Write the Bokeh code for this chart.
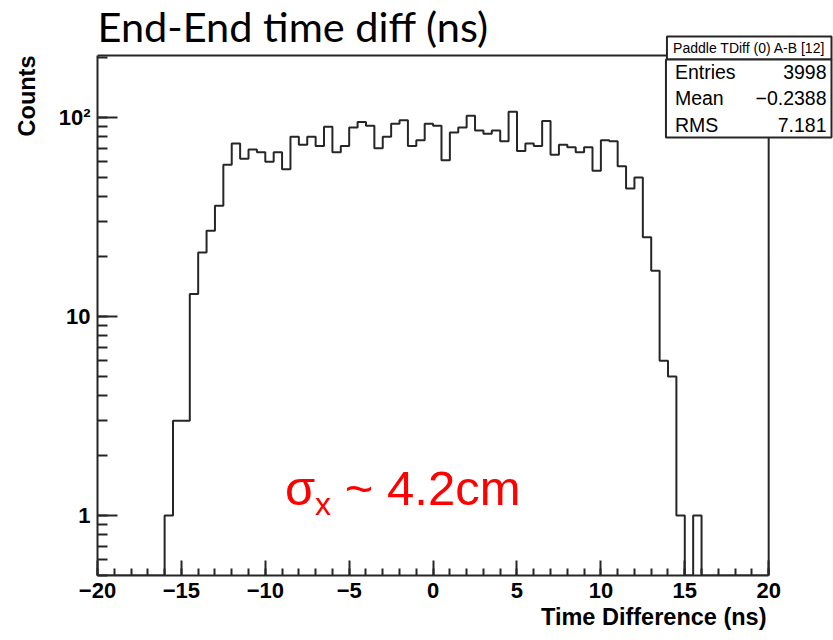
import math
import numpy as np
from bokeh.plotting import figure
from bokeh.models import (Range1d, FixedTicker, BoxAnnotation, Label, Title)
from bokeh.embed import file_html
from bokeh.resources import INLINE

# ---------------- data ----------------
bin_width = 0.5
bin_low = np.arange(-20.0, 20.0, bin_width)          # 80 bins, -20 .. 19.5
counts = [
    0, 0, 0, 0, 0, 0, 0, 0,                          # -20.0 .. -16.5
    1, 3, 3, 13, 21, 27, 36, 58,                     # -16.0 .. -12.5
    74, 62, 69, 67, 60, 67, 55, 80,                  # -12.0 .. -8.5
    73, 80, 72, 90, 67, 72, 89, 95,                  # -8.0 .. -4.5
    91, 70, 80, 93, 97, 72, 77, 93,                  # -4.0 .. -0.5
    91, 61, 84, 89, 102, 86, 83, 86,                 # 0.0 .. 3.5
    76, 107, 68, 74, 72, 96, 65, 73,                 # 4.0 .. 7.5
    71, 67, 71, 54, 77, 76, 57, 44,                  # 8.0 .. 11.5
    50, 25, 17, 6, 5, 1, 0, 1,                       # 12.0 .. 15.5
    0, 0, 0, 0, 0, 0, 0, 0,                          # 16.0 .. 19.5
]
x_ticks = [-20, -15, -10, -5, 0, 5, 10, 15, 20]
x_tick_labels = ["\u221220", "\u221215", "\u221210", "\u22125", "0", "5", "10", "15", "20"]
y_ticks = [1, 10, 100]
y_tick_labels = ["1", "10", "10\u00b2"]

title_text = "End-End time diff (ns)"
x_title = "Time Difference (ns)"
y_title = "Counts"
stats_header = "Paddle TDiff (0) A-B [12]"
stats_names = ["Entries", "Mean", "RMS"]
stats_values = ["3998", "\u22120.2388", "7.181"]
annot_main = "\u03c3"
annot_sub = "x"
annot_rest = "~ 4.2cm"

# ---------------- geometry ----------------
W, H = 833, 640
FL, FR, FT, FB = 95, 768, 55, 575       # axes box (pixels)
XMIN, XMAX = -20.0, 20.0
YMIN, YMAX = 0.5, 205.0


def dx(px):
    return XMIN + (px - FL) / (FR - FL) * (XMAX - XMIN)


def dy(py):
    lo, hi = math.log10(YMIN), math.log10(YMAX)
    return 10 ** (lo + (FB - py) / (FB - FT) * (hi - lo))


LINE = "#262626"
FONT = "Liberation Sans"

# the drawing frame reaches the right and top canvas edges so that the
# stats box and the title can overhang the axes box, as in ROOT
p = figure(width=W, height=H, y_axis_type="log",
           x_range=Range1d(XMIN, dx(W)), y_range=Range1d(YMIN, dy(0)),
           output_backend="svg", toolbar_location=None,
           min_border_left=FL, min_border_right=0,
           min_border_top=0, min_border_bottom=H - FB)
p.background_fill_color = "white"
p.border_fill_color = "white"
p.outline_line_color = None
p.xgrid.visible = False
p.ygrid.visible = False

# histogram outline (zero bins drawn on the frame floor)
edges = np.append(bin_low, XMAX)
y_draw = np.where(np.array(counts) > 0, np.array(counts, dtype=float), YMIN)
xs = np.repeat(edges, 2)[1:-1]
ys = np.repeat(y_draw, 2)
p.line(xs, ys, line_color=LINE, line_width=2)

# top and right edges of the axes box
p.line([XMIN, XMAX, XMAX], [YMAX, YMAX, YMIN], line_color=LINE, line_width=2)

# x axis
xa = p.xaxis[0]
xa.bounds = (XMIN, XMAX)
xa.ticker = FixedTicker(ticks=x_ticks, minor_ticks=list(range(-20, 21)))
xa.major_label_overrides = {t: l for t, l in zip(x_ticks, x_tick_labels)}
xa.major_tick_in = 15
xa.major_tick_out = 0
xa.minor_tick_in = 7
xa.minor_tick_out = 0
xa.major_label_standoff = 7

# y axis
ya = p.yaxis[0]
ya.bounds = (YMIN, YMAX)
y_minor = [m * 10 ** k for k in range(-1, 3) for m in range(1, 10) if YMIN <= m * 10 ** k <= YMAX]
ya.ticker = FixedTicker(ticks=y_ticks, minor_ticks=y_minor)
ya.major_label_overrides = {t: l for t, l in zip(y_ticks, y_tick_labels)}
ya.major_tick_in = 20
ya.major_tick_out = 0
ya.minor_tick_in = 10
ya.minor_tick_out = 0
ya.major_label_standoff = 7

for ax in (xa, ya):
    ax.axis_line_color = LINE
    ax.axis_line_width = 2
    ax.major_tick_line_color = LINE
    ax.major_tick_line_width = 2
    ax.minor_tick_line_color = LINE
    ax.minor_tick_line_width = 2
    ax.major_label_text_font = FONT
    ax.major_label_text_font_style = "bold"
    ax.major_label_text_font_size = "22px"
    ax.major_label_text_color = "black"

# axis titles (ROOT puts them at the far end of each axis)
p.add_layout(Title(text=x_title, align="right", offset=W - FR + 2, standoff=2,
                   vertical_align="bottom", text_line_height=1.35,
                   text_font=FONT, text_font_style="bold", text_font_size="23.5px",
                   text_color="black"), "below")
p.add_layout(Title(text=y_title, align="right", offset=FT, standoff=27,
                   vertical_align="top",
                   text_font=FONT, text_font_style="bold", text_font_size="23.5px",
                   text_color="black"), "left")

# main title
p.add_layout(Label(x=dx(95), y=dy(25), text=title_text, text_font="Lato",
                   text_font_size="41.5px", text_color="black",
                   text_align="left", text_baseline="middle"))

# stats box
p.add_layout(BoxAnnotation(left=dx(666), right=dx(831), top=dy(36), bottom=dy(59),
                           fill_color="white", fill_alpha=1.0, line_color=LINE,
                           line_width=2, line_alpha=1.0))
p.add_layout(BoxAnnotation(left=dx(665), right=dx(831), top=dy(59), bottom=dy(137),
                           fill_color="white", fill_alpha=1.0, line_color=LINE,
                           line_width=2, line_alpha=1.0))
p.add_layout(Label(x=dx(748.5), y=dy(47.5), text=stats_header, text_font=FONT,
                   text_font_size="14px", text_color="black", text_align="center",
                   text_baseline="middle"))
row_mid = [71, 97.5, 124]
for name, val, m in zip(stats_names, stats_values, row_mid):
    p.add_layout(Label(x=dx(674), y=dy(m), text=name, text_font=FONT,
                       text_font_size="19.5px", text_color="black",
                       text_align="left", text_baseline="middle"))
    p.add_layout(Label(x=dx(826), y=dy(m), text=val, text_font=FONT,
                       text_font_size="19.5px", text_color="black",
                       text_align="right", text_baseline="middle"))

# red annotation
p.add_layout(Label(x=dx(283), y=dy(487), text=annot_main, text_font=FONT,
                   text_font_size="49px", text_color="#ff0000",
                   text_align="left", text_baseline="middle"))
p.add_layout(Label(x=dx(313), y=dy(503), text=annot_sub, text_font=FONT,
                   text_font_size="32px", text_color="#ff0000",
                   text_align="left", text_baseline="middle"))
p.add_layout(Label(x=dx(343), y=dy(487), text=annot_rest, text_font=FONT,
                   text_font_size="49px", text_color="#ff0000",
                   text_align="left", text_baseline="middle"))

open("out.html", "w").write(file_html(p, INLINE))
